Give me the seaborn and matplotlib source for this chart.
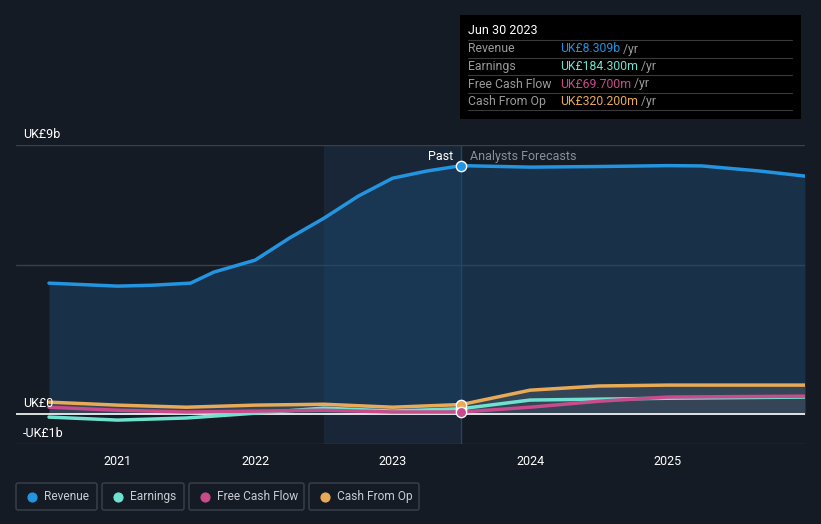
import numpy as np
import pandas as pd
import matplotlib
matplotlib.use("Agg")
import matplotlib.pyplot as plt
import seaborn as sns
from matplotlib.patches import FancyBboxPatch

# --- data (UK£ billions, decimal years) ---
rev_x = [2020.5, 2021.0, 2021.25, 2021.53, 2021.7, 2022.0, 2022.25, 2022.5, 2022.75,
         2023.0, 2023.25, 2023.5, 2024.0, 2024.5, 2025.0, 2025.25, 2025.67, 2026.0]
rev_y = [4.38, 4.28, 4.31, 4.38, 4.75, 5.15, 5.89, 6.55, 7.29,
         7.89, 8.13, 8.31, 8.26, 8.28, 8.31, 8.30, 8.13, 7.96]

oth_x = [2020.5, 2021.0, 2021.5, 2022.0, 2022.5, 2023.0, 2023.5, 2024.0, 2024.5, 2025.0, 2026.0]
earn_y = [-0.10, -0.20, -0.13, 0.03, 0.20, 0.10, 0.18, 0.47, 0.50, 0.53, 0.57]
fcf_y = [0.23, 0.13, 0.07, 0.10, 0.13, 0.07, 0.07, 0.23, 0.43, 0.57, 0.60]
cfo_y = [0.40, 0.30, 0.23, 0.30, 0.33, 0.23, 0.32, 0.80, 0.94, 0.97, 0.97]

year_ticks = [2021, 2022, 2023, 2024, 2025]
y_labels = {9: "UK£9b", 0: "UK£0", -1: "-UK£1b"}

tip_date = "Jun 30 2023"
tip_rows = [("Revenue", "UK£8.309b"), ("Earnings", "UK£184.300m"),
            ("Free Cash Flow", "UK£69.700m"), ("Cash From Op", "UK£320.200m")]

past_end = 2023.5
colors = {"Revenue": "#2394df", "Earnings": "#6ee2cf",
          "Free Cash Flow": "#c84b8c", "Cash From Op": "#e8aa57"}
bg = "#151b25"

sns.set_style("dark")
plt.rcParams["font.family"] = ["Roboto", "DejaVu Sans"]

fig = plt.figure(figsize=(8.21, 5.24), dpi=100, facecolor=bg)
ax = fig.add_axes([16 / 821, 1 - 444 / 524, (805 - 16) / 821, (444 - 145) / 524])
ax.set_facecolor(bg)
x0, x1 = 2020.26, 2026.0
ax.set_xlim(x0, x1)
ax.set_ylim(-1, 9)

# past year highlight band
ax.axvspan(past_end - 1, past_end, color="#1d3550", alpha=0.45, lw=0, zorder=0)
ax.axvline(past_end, color="#25445f", lw=1, zorder=1)

# grid lines
for v in [9, 5, -1]:
    ax.axhline(v, color="#3a404a", lw=1, zorder=1)
ax.axhline(0, color="white", lw=1.2, zorder=4)

# fills
ax.fill_between(rev_x, rev_y, 0, color="#1c4a74", alpha=0.45, lw=0, zorder=2)
ax.fill_between(oth_x, cfo_y, 0, color="#6a6d74", alpha=0.35, lw=0, zorder=2)

long = pd.concat([
    pd.DataFrame({"x": rev_x, "y": rev_y, "s": "Revenue"}),
    pd.DataFrame({"x": oth_x, "y": earn_y, "s": "Earnings"}),
    pd.DataFrame({"x": oth_x, "y": fcf_y, "s": "Free Cash Flow"}),
    pd.DataFrame({"x": oth_x, "y": cfo_y, "s": "Cash From Op"}),
])
sns.lineplot(data=long, x="x", y="y", hue="s", palette=colors, lw=2.5,
             legend=False, ax=ax, zorder=5)

# markers at Jun 30 2023
ends = {"Revenue": rev_y[rev_x.index(past_end)],
        "Earnings": earn_y[oth_x.index(past_end)],
        "Free Cash Flow": fcf_y[oth_x.index(past_end)],
        "Cash From Op": cfo_y[oth_x.index(past_end)]}
for k in ["Earnings", "Cash From Op", "Free Cash Flow", "Revenue"]:
    ax.scatter([past_end], [ends[k]], s=55, color=colors[k], edgecolor="white",
               lw=1, zorder=7)

ax.text(past_end - 0.06, 8.6, "Past", color="white", fontsize=9, ha="right", va="center")
ax.text(past_end + 0.06, 8.6, "Analysts Forecasts", color="#8a8f98", fontsize=9,
        ha="left", va="center")

# y labels above gridlines
for v, t in y_labels.items():
    ax.text(x0 + 0.05, v + 0.15, t, color="white", fontsize=9, ha="left", va="bottom",
            zorder=8)

ax.set_xticks(year_ticks)
ax.set_xticklabels([str(y) for y in year_ticks])
ax.set_yticks([])
ax.tick_params(axis="x", colors="#3a404a", labelcolor="white", labelsize=9, length=4,
               direction="out", pad=4)
ax.set_xlabel("")
ax.set_ylabel("")
ax.grid(False)
for s in ax.spines.values():
    s.set_visible(False)

# tooltip box
tip = fig.add_axes([460 / 821, 1 - 119 / 524, 341 / 821, 104 / 524])
tip.set_facecolor("black")
tip.set_xlim(0, 341)
tip.set_ylim(104, 0)
tip.set_xticks([])
tip.set_yticks([])
for s in tip.spines.values():
    s.set_visible(False)
tip.text(8, 16, tip_date, color="white", fontsize=9, va="center")
for i, (name, val) in enumerate(tip_rows):
    yc = 34 + i * 17.5
    tip.axhline(yc - 9, xmin=8 / 341, xmax=332 / 341, color="#3a3a3a", lw=0.8)
    tip.text(8, yc, name, color="#9a9a9a", fontsize=8.8, va="center")
    t = tip.text(100, yc, val, color=colors[name], fontsize=8.8, va="center")
    tip.annotate(" /yr", xycoords=t, xy=(1, 0.5), va="center", color="#9a9a9a",
                 fontsize=8.8)
tip.axhline(34 + 4 * 17.5 - 9, xmin=8 / 341, xmax=332 / 341, color="#3a3a3a", lw=0.8)

# legend buttons
leg = fig.add_axes([0, 0, 1, 1], facecolor="none")
leg.set_xlim(0, 821)
leg.set_ylim(524, 0)
leg.axis("off")
buttons = [("Revenue", 16, 81), ("Earnings", 102, 82), ("Free Cash Flow", 189, 115),
           ("Cash From Op", 309, 110)]
for name, bx, bw in buttons:
    leg.add_patch(FancyBboxPatch((bx, 483), bw, 27, boxstyle="round,pad=0,rounding_size=2",
                                 fc="none", ec="#3c424c", lw=1))
    leg.scatter([bx + 16], [496.5], s=40, color=colors[name])
    leg.text(bx + 28, 496.5, name, color="#c8ccd2", fontsize=8.6, va="center")

fig.savefig("out.png", dpi=100, facecolor=bg)
